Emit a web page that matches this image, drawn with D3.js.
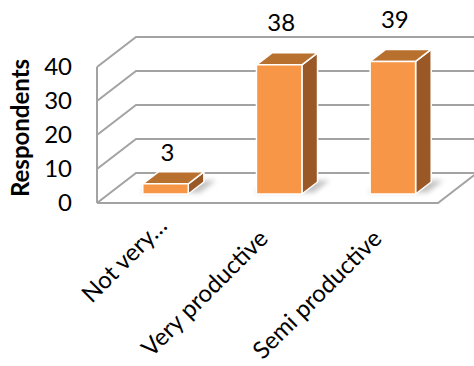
<!DOCTYPE html>
<html>
<head>
<meta charset="utf-8">
<script src="https://cdn.jsdelivr.net/npm/d3@7"></script>
<style>
  body { margin: 0; background: #fff; }
  text { font-family: Lato, "Open Sans", sans-serif; fill: #000; }
</style>
</head>
<body>
<svg id="chart" width="474" height="366"></svg>
<script>
// Survey results: perceived productivity
const categories = ["Not very…", "Very productive", "Semi productive"];
const respondents = [3, 38, 39];
const yTicks = [0, 10, 20, 30, 40];
const axisTitle = "Respondents";

const svg = d3.select("#chart");

// Front plane of the 3D plot box and the depth vector towards the back wall
const x0 = 97, x1 = 438, yFloor = 203, yCeil = 67;
const depth = { dx: 39, dy: -30 };
const zFront = 0.3, zBack = 0.7; // bars sit in this slab of the depth

const y = d3.scaleLinear().domain([0, 40]).range([yFloor, yCeil]);
const x = d3.scaleBand().domain(categories).range([x0, x1])
  .paddingInner(0.6).paddingOuter(0.3);
const labelY = d3.scaleLinear().domain([0, 40]).range([172, 24]);

// project (front x, value, depth fraction) to screen
const P = (px, v, z) => [px + z * depth.dx, y(v) + z * depth.dy];
const poly = pts => "M" + pts.map(p => p.join(",")).join("L") + "Z";

const gridColor = "#a3a3a3";
const walls = svg.append("g")
  .attr("fill", "none").attr("stroke", gridColor).attr("stroke-width", 2);

// back wall gridlines and side-wall diagonals
yTicks.forEach(t => {
  walls.append("path").attr("d", "M" + P(x0, t, 0) + "L" + P(x0, t, 1) + "L" + P(x1, t, 1));
});
// left wall front edge
walls.append("path").attr("d", "M" + P(x0, 0, 0) + "L" + P(x0, 40, 0));
// floor front and right edges
walls.append("path").attr("d", "M" + P(x0, 0, 0) + "L" + P(x1, 0, 0) + "L" + P(x1, 0, 1));

// soft shadows under the bars
const defs = svg.append("defs");
defs.append("filter").attr("id", "shadowBlur")
  .attr("x", "-50%").attr("y", "-50%").attr("width", "200%").attr("height", "200%")
  .append("feGaussianBlur").attr("stdDeviation", 2.5);

const bw = x.bandwidth();
const bars = svg.append("g");
categories.forEach((c, i) => {
  const xl = x(c), xr = xl + bw;
  bars.append("path")
    .attr("d", poly([P(xl - 4, 0, zFront + 0.05), P(xr + 10, 0, zFront + 0.05),
                     P(xr + 10, 0, zBack + 0.05), P(xl - 4, 0, zBack + 0.05)]))
    .attr("fill", "#7a7a7a").attr("opacity", 0.45)
    .attr("filter", "url(#shadowBlur)");
});

categories.forEach((c, i) => {
  const v = respondents[i];
  const xl = x(c), xr = xl + bw;
  const g = bars.append("g").attr("stroke", "#ffffff").attr("stroke-width", 1.5)
    .attr("stroke-linejoin", "round");
  // right side
  g.append("path")
    .attr("d", poly([P(xr, 0, zFront), P(xr, 0, zBack), P(xr, v, zBack), P(xr, v, zFront)]))
    .attr("fill", "#9a5826");
  // top
  g.append("path")
    .attr("d", poly([P(xl, v, zFront), P(xr, v, zFront), P(xr, v, zBack), P(xl, v, zBack)]))
    .attr("fill", "#b8702f");
  // front
  g.append("path")
    .attr("d", poly([P(xl, 0, zFront), P(xr, 0, zFront), P(xr, v, zFront), P(xl, v, zFront)]))
    .attr("fill", "#f79646");
});

// value labels
svg.append("g").selectAll("text").data(categories).join("text")
  .attr("x", c => P(x(c) + bw / 2, 0, zFront)[0] + 2)
  .attr("y", (c, i) => labelY(respondents[i]))
  .attr("text-anchor", "middle")
  .style("font-size", "24px")
  .text((c, i) => respondents[i]);

// value axis ticks on the front plane
svg.append("g").selectAll("text").data(yTicks).join("text")
  .attr("x", 72)
  .attr("y", t => y(t) + 2)
  .attr("text-anchor", "end")
  .attr("dominant-baseline", "middle")
  .style("font-size", "24px")
  .text(t => t);

// axis title
svg.append("text")
  .attr("transform", "translate(29,128) rotate(-90)")
  .attr("text-anchor", "middle")
  .style("font-size", "24px")
  .style("font-weight", "bold")
  .text(axisTitle);

// category labels, rotated
svg.append("g").selectAll("text").data(categories).join("text")
  .attr("transform", c => `translate(${x(c) + bw / 2 + 2},240) rotate(-45)`)
  .attr("dx", c => c.endsWith("…") ? 18 : 0)
  .attr("text-anchor", "end")
  .style("font-size", "24px")
  .text(c => c);
</script>
</body>
</html>
